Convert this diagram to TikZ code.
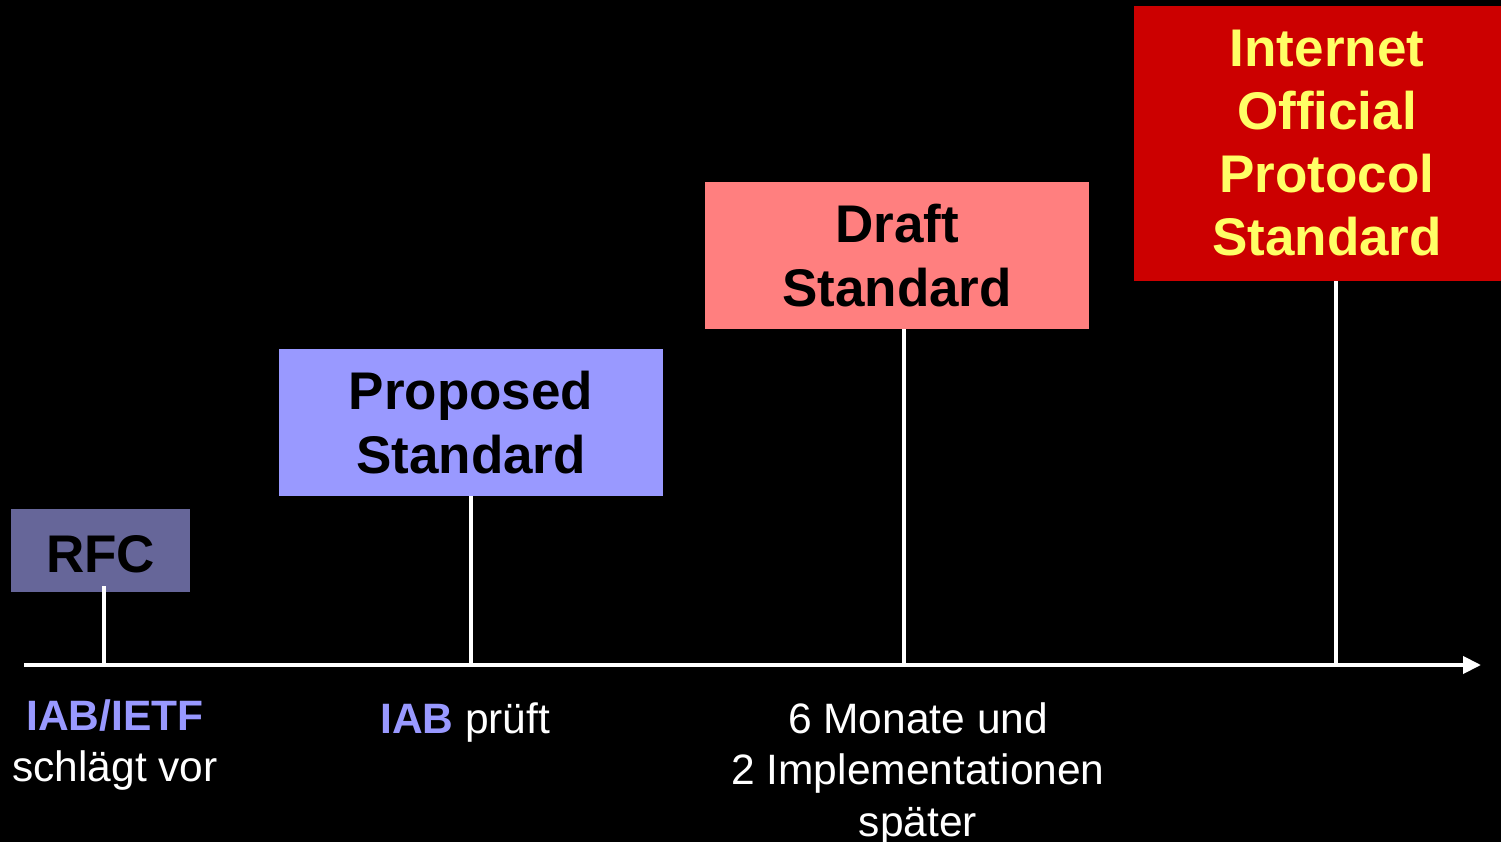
\documentclass[tikz,border=0pt]{standalone}
\usepackage{fontspec}
\setmainfont{Liberation Sans}
\usetikzlibrary{arrows.meta}
\definecolor{rfcfill}{HTML}{666699}
\definecolor{propfill}{HTML}{9999FF}
\definecolor{draftfill}{HTML}{FF7F7F}
\definecolor{iopsfill}{HTML}{CC0000}
\definecolor{iopstext}{HTML}{FFFF66}
\definecolor{iablue}{HTML}{9999FF}
\tikzset{
  stagebox/.style={draw=none, inner sep=0pt, align=center, font=\fontsize{53}{64}\selectfont\bfseries,
    execute at begin node={\rule{0pt}{44pt}}},
  tick/.style={draw=white, line width=4.5pt},
  axisline/.style={draw=white, line width=4pt, -{Triangle[length=18pt,width=17pt]}},
  lbl/.style={text=white, align=center, inner sep=0pt, font=\fontsize{42.5}{51.5}\selectfont}
}
\begin{document}
\begin{tikzpicture}[x=1pt,y=-1pt]
\useasboundingbox (0,0) rectangle (1501,842);
\fill[black] (0,0) rectangle (1501,842);
% axis coordinates
\coordinate (start) at (24,665);
\coordinate (end) at (1481,665);
\coordinate (a1) at (104,665);
\coordinate (a2) at (471,665);
\coordinate (a3) at (904,665);
\coordinate (a4) at (1336,665);
% boxes
\node[stagebox, fill=rfcfill, minimum width=179pt, minimum height=83pt] (rfc) at (100.5,550.5) {RFC};
\node[stagebox, fill=propfill, minimum width=384pt, minimum height=147pt] (prop) at (471,422.5) {Proposed\\Standard};
\node[stagebox, fill=draftfill, minimum width=384pt, minimum height=147pt] (draft) at (897,255.5) {Draft\\Standard};
\node[stagebox, fill=iopsfill, minimum width=386pt, minimum height=275pt, text=iopstext, font=\fontsize{53}{63}\selectfont\bfseries] (iops) at (1327,143.5) {Internet\\Official\\Protocol\\Standard};
% axis
\draw[axisline] (start) -- (end);
% ticks
\draw[tick] (rfc.south -| a1) ++(0,-6) -- (a1);
\draw[tick] (prop.south -| a2) -- (a2);
\draw[tick] (draft.south -| a3) -- (a3);
\draw[tick] (iops.south -| a4) -- (a4);
% labels
\node[lbl] (l1) at (115,745) {\textcolor{iablue}{\bfseries IAB/IETF}\\schlägt vor};
\node[lbl, anchor=west] (l2) at (380,723) {\textcolor{iablue}{\bfseries IAB} prüft};
\node[lbl] (l3) at (918,774) {6 Monate und\\2 Implementationen\\später};
\end{tikzpicture}
\end{document}
